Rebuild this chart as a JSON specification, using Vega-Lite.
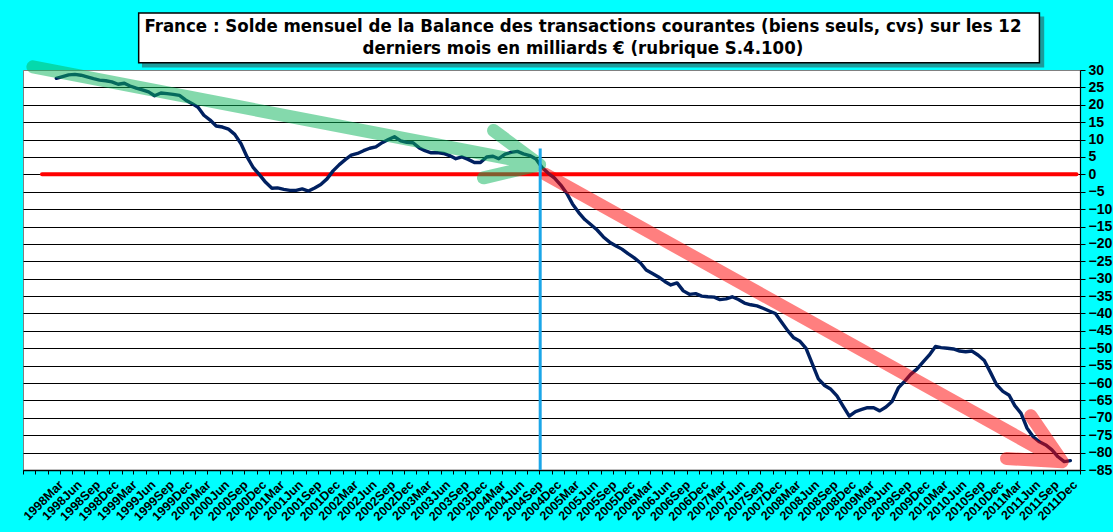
{
  "$schema": "https://vega.github.io/schema/vega-lite/v6.json",
  "width": 1057,
  "height": 400,
  "autosize": {"type": "none"},
  "padding": {"left": 23, "top": 70, "right": 33, "bottom": 62},
  "background": "#00FFFF",
  "config": {
    "view": {"fill": "white", "stroke": "#808080", "strokeWidth": 1},
    "font": "Liberation Sans"
  },
  "datasets": {
    "solde": [
      {"mois": "1998-03-15", "solde": 27.6}, {"mois": "1998-04-15", "solde": 28.1}, {"mois": "1998-05-15", "solde": 28.6},
      {"mois": "1998-06-15", "solde": 28.75}, {"mois": "1998-07-15", "solde": 28.5}, {"mois": "1998-08-15", "solde": 28.0},
      {"mois": "1998-09-15", "solde": 27.5}, {"mois": "1998-10-15", "solde": 27.1}, {"mois": "1998-11-15", "solde": 26.9},
      {"mois": "1998-12-15", "solde": 26.6}, {"mois": "1999-01-15", "solde": 25.9}, {"mois": "1999-02-15", "solde": 26.2},
      {"mois": "1999-03-15", "solde": 25.4}, {"mois": "1999-04-15", "solde": 24.8}, {"mois": "1999-05-15", "solde": 24.3},
      {"mois": "1999-06-15", "solde": 23.7}, {"mois": "1999-07-15", "solde": 22.6}, {"mois": "1999-08-15", "solde": 23.4},
      {"mois": "1999-09-15", "solde": 23.2}, {"mois": "1999-10-15", "solde": 23.0}, {"mois": "1999-11-15", "solde": 22.7},
      {"mois": "1999-12-15", "solde": 21.4}, {"mois": "2000-01-15", "solde": 20.4}, {"mois": "2000-02-15", "solde": 19.3},
      {"mois": "2000-03-15", "solde": 17.0}, {"mois": "2000-04-15", "solde": 15.6}, {"mois": "2000-05-15", "solde": 13.9},
      {"mois": "2000-06-15", "solde": 13.6}, {"mois": "2000-07-15", "solde": 13.0}, {"mois": "2000-08-15", "solde": 11.5},
      {"mois": "2000-09-15", "solde": 8.8}, {"mois": "2000-10-15", "solde": 5.0}, {"mois": "2000-11-15", "solde": 1.9},
      {"mois": "2000-12-15", "solde": -0.1}, {"mois": "2001-01-15", "solde": -2.3}, {"mois": "2001-02-15", "solde": -4.0},
      {"mois": "2001-03-15", "solde": -3.9}, {"mois": "2001-04-15", "solde": -4.3}, {"mois": "2001-05-15", "solde": -4.6},
      {"mois": "2001-06-15", "solde": -4.6}, {"mois": "2001-07-15", "solde": -4.2}, {"mois": "2001-08-15", "solde": -4.8},
      {"mois": "2001-09-15", "solde": -3.9}, {"mois": "2001-10-15", "solde": -2.9}, {"mois": "2001-11-15", "solde": -1.3},
      {"mois": "2001-12-15", "solde": 1.0}, {"mois": "2002-01-15", "solde": 2.8}, {"mois": "2002-02-15", "solde": 4.3},
      {"mois": "2002-03-15", "solde": 5.5}, {"mois": "2002-04-15", "solde": 6.0}, {"mois": "2002-05-15", "solde": 6.8},
      {"mois": "2002-06-15", "solde": 7.5}, {"mois": "2002-07-15", "solde": 7.9}, {"mois": "2002-08-15", "solde": 9.1},
      {"mois": "2002-09-15", "solde": 10.0}, {"mois": "2002-10-15", "solde": 10.8}, {"mois": "2002-11-15", "solde": 9.6},
      {"mois": "2002-12-15", "solde": 9.2}, {"mois": "2003-01-15", "solde": 9.1}, {"mois": "2003-02-15", "solde": 7.6},
      {"mois": "2003-03-15", "solde": 6.8}, {"mois": "2003-04-15", "solde": 6.2}, {"mois": "2003-05-15", "solde": 6.25},
      {"mois": "2003-06-15", "solde": 6.0}, {"mois": "2003-07-15", "solde": 5.4}, {"mois": "2003-08-15", "solde": 4.5},
      {"mois": "2003-09-15", "solde": 5.0}, {"mois": "2003-10-15", "solde": 4.3}, {"mois": "2003-11-15", "solde": 3.4},
      {"mois": "2003-12-15", "solde": 3.4}, {"mois": "2004-01-15", "solde": 5.0}, {"mois": "2004-02-15", "solde": 5.2},
      {"mois": "2004-03-15", "solde": 4.5}, {"mois": "2004-04-15", "solde": 5.8}, {"mois": "2004-05-15", "solde": 6.3},
      {"mois": "2004-06-15", "solde": 6.6}, {"mois": "2004-07-15", "solde": 5.9}, {"mois": "2004-08-15", "solde": 5.4},
      {"mois": "2004-09-15", "solde": 4.4}, {"mois": "2004-10-15", "solde": 2.0}, {"mois": "2004-11-15", "solde": 0.3},
      {"mois": "2004-12-15", "solde": -1.0}, {"mois": "2005-01-15", "solde": -3.0}, {"mois": "2005-02-15", "solde": -5.5},
      {"mois": "2005-03-15", "solde": -8.5}, {"mois": "2005-04-15", "solde": -11.0}, {"mois": "2005-05-15", "solde": -13.0},
      {"mois": "2005-06-15", "solde": -14.5}, {"mois": "2005-07-15", "solde": -16.0}, {"mois": "2005-08-15", "solde": -18.0},
      {"mois": "2005-09-15", "solde": -19.5}, {"mois": "2005-10-15", "solde": -20.5}, {"mois": "2005-11-15", "solde": -21.5},
      {"mois": "2005-12-15", "solde": -22.8}, {"mois": "2006-01-15", "solde": -24.0}, {"mois": "2006-02-15", "solde": -25.5},
      {"mois": "2006-03-15", "solde": -27.5}, {"mois": "2006-04-15", "solde": -28.5}, {"mois": "2006-05-15", "solde": -29.5},
      {"mois": "2006-06-15", "solde": -30.8}, {"mois": "2006-07-15", "solde": -31.8}, {"mois": "2006-08-15", "solde": -31.2},
      {"mois": "2006-09-15", "solde": -33.5}, {"mois": "2006-10-15", "solde": -34.5}, {"mois": "2006-11-15", "solde": -34.3},
      {"mois": "2006-12-15", "solde": -35.0}, {"mois": "2007-01-15", "solde": -35.2}, {"mois": "2007-02-15", "solde": -35.3},
      {"mois": "2007-03-15", "solde": -36.0}, {"mois": "2007-04-15", "solde": -35.8}, {"mois": "2007-05-15", "solde": -35.2},
      {"mois": "2007-06-15", "solde": -36.0}, {"mois": "2007-07-15", "solde": -37.0}, {"mois": "2007-08-15", "solde": -37.5},
      {"mois": "2007-09-15", "solde": -37.8}, {"mois": "2007-10-15", "solde": -38.5}, {"mois": "2007-11-15", "solde": -39.3},
      {"mois": "2007-12-15", "solde": -40.0}, {"mois": "2008-01-15", "solde": -42.5}, {"mois": "2008-02-15", "solde": -45.0},
      {"mois": "2008-03-15", "solde": -47.0}, {"mois": "2008-04-15", "solde": -48.0}, {"mois": "2008-05-15", "solde": -50.0},
      {"mois": "2008-06-15", "solde": -54.5}, {"mois": "2008-07-15", "solde": -58.8}, {"mois": "2008-08-15", "solde": -60.7},
      {"mois": "2008-09-15", "solde": -61.8}, {"mois": "2008-10-15", "solde": -63.7}, {"mois": "2008-11-15", "solde": -66.7},
      {"mois": "2008-12-15", "solde": -69.5}, {"mois": "2009-01-15", "solde": -68.2}, {"mois": "2009-02-15", "solde": -67.6},
      {"mois": "2009-03-15", "solde": -67.1}, {"mois": "2009-04-15", "solde": -67.1}, {"mois": "2009-05-15", "solde": -68.0},
      {"mois": "2009-06-15", "solde": -66.9}, {"mois": "2009-07-15", "solde": -65.3}, {"mois": "2009-08-15", "solde": -61.4},
      {"mois": "2009-09-15", "solde": -59.5}, {"mois": "2009-10-15", "solde": -57.5}, {"mois": "2009-11-15", "solde": -56.0},
      {"mois": "2009-12-15", "solde": -54.0}, {"mois": "2010-01-15", "solde": -52.0}, {"mois": "2010-02-15", "solde": -49.5},
      {"mois": "2010-03-15", "solde": -49.8}, {"mois": "2010-04-15", "solde": -50.0}, {"mois": "2010-05-15", "solde": -50.2},
      {"mois": "2010-06-15", "solde": -50.8}, {"mois": "2010-07-15", "solde": -51.0}, {"mois": "2010-08-15", "solde": -50.8},
      {"mois": "2010-09-15", "solde": -52.0}, {"mois": "2010-10-15", "solde": -53.5}, {"mois": "2010-11-15", "solde": -57.0},
      {"mois": "2010-12-15", "solde": -60.5}, {"mois": "2011-01-15", "solde": -62.4}, {"mois": "2011-02-15", "solde": -63.5},
      {"mois": "2011-03-15", "solde": -66.5}, {"mois": "2011-04-15", "solde": -68.7}, {"mois": "2011-05-15", "solde": -73.0},
      {"mois": "2011-06-15", "solde": -75.5}, {"mois": "2011-07-15", "solde": -76.9}, {"mois": "2011-08-15", "solde": -77.8},
      {"mois": "2011-09-15", "solde": -79.2}, {"mois": "2011-10-15", "solde": -81.2}, {"mois": "2011-11-15", "solde": -82.6},
      {"mois": "2011-12-15", "solde": -82.3}
    ],
    "fleches": [
      {"fleche": "verte", "rang": 1, "mois": "1997-11-19", "v": 30.9},
      {"fleche": "verte", "rang": 2, "mois": "2004-10-03", "v": 2.8},
      {"fleche": "verte", "rang": 3, "mois": "2004-02-18", "v": 12.6},
      {"fleche": "verte", "rang": 4, "mois": "2004-10-03", "v": 2.8},
      {"fleche": "verte", "rang": 5, "mois": "2003-12-30", "v": -1.0},
      {"fleche": "rouge", "rang": 1, "mois": "2004-11-02", "v": 0.0},
      {"fleche": "rouge", "rang": 2, "mois": "2011-11-05", "v": -82.6},
      {"fleche": "rouge", "rang": 3, "mois": "2011-06-02", "v": -69.4},
      {"fleche": "rouge", "rang": 4, "mois": "2011-11-05", "v": -82.6},
      {"fleche": "rouge", "rang": 5, "mois": "2011-02-02", "v": -81.7}
    ]
  },
  "layer": [
    {
      "data": {"values": [{"debut": "1998-01-03", "fin": "2012-01-15", "v": 0}]},
      "mark": {"type": "rule", "color": "#FF0000", "strokeWidth": 4, "strokeCap": "round"},
      "encoding": {
        "x": {"field": "debut", "type": "temporal", "scale": {"type": "utc", "domain": [{"year": 1997, "month": 10, "date": 1, "utc": true}, {"year": 2012, "month": 2, "date": 1, "utc": true}]}},
        "x2": {"field": "fin"},
        "y": {"field": "v", "type": "quantitative", "scale": {"domain": [-85, 30], "nice": false, "zero": false}}
      }
    },
    {
      "data": {"name": "solde"},
      "mark": {"type": "line", "color": "#002060", "strokeWidth": 3.4, "strokeJoin": "round", "strokeCap": "round"},
      "encoding": {
        "x": {
          "field": "mois",
          "type": "temporal",
          "scale": {"type": "utc", "domain": [{"year": 1997, "month": 10, "date": 1, "utc": true}, {"year": 2012, "month": 2, "date": 1, "utc": true}]},
          "axis": {
            "title": null,
            "grid": false,
            "tickCount": {"interval": "month", "step": 1},
            "domainColor": "black",
            "domainWidth": 1.5,
            "tickColor": "black",
            "tickSize": 4,
            "tickOpacity": {"condition": {"test": "utcmonth(datum.value) % 2 == 1", "value": 1}, "value": 0},
            "labelExpr": "(utcmonth(datum.value) % 3 == 2 && datum.value >= utc(1998, 2, 1)) ? utcFormat(datum.value, '%Y%b') : ''",
            "labelAngle": -45,
            "labelOffset": 3,
            "labelPadding": 4,
            "labelOverlap": false,
            "labelBound": false,
            "labelFlush": false,
            "labelFont": "Liberation Sans",
            "labelFontSize": 12.5,
            "labelFontWeight": "bold",
            "labelColor": "black"
          }
        },
        "y": {
          "field": "solde",
          "type": "quantitative",
          "scale": {"domain": [-85, 30], "nice": false, "zero": false},
          "axis": {
            "title": null,
            "orient": "right",
            "values": [-85, -80, -75, -70, -65, -60, -55, -50, -45, -40, -35, -30, -25, -20, -15, -10, -5, 0, 5, 10, 15, 20, 25, 30],
            "tickCount": 40,
            "grid": true,
            "gridColor": {"condition": {"test": "datum.value == 30", "value": "#808080"}, "value": "black"},
            "gridOpacity": 1,
            "gridWidth": 1.2,
            "domainColor": "black",
            "domainWidth": 1.2,
            "tickColor": "black",
            "tickSize": 5,
            "labelOverlap": false,
            "labelBound": false,
            "labelFlush": false,
            "labelPadding": 3,
            "labelFont": "Liberation Sans",
            "labelFontSize": 14,
            "labelFontWeight": "bold",
            "labelColor": "black"
          }
        }
      }
    },
    {
      "data": {"name": "fleches"},
      "mark": {"type": "line", "strokeWidth": 13, "strokeCap": "round", "strokeJoin": "round", "opacity": 0.5},
      "encoding": {
        "x": {"field": "mois", "type": "temporal", "scale": {"type": "utc", "domain": [{"year": 1997, "month": 10, "date": 1, "utc": true}, {"year": 2012, "month": 2, "date": 1, "utc": true}]}},
        "y": {"field": "v", "type": "quantitative", "scale": {"domain": [-85, 30], "nice": false, "zero": false}},
        "color": {"field": "fleche", "type": "nominal", "scale": {"domain": ["verte", "rouge"], "range": ["#09B359", "#FF0000"]}, "legend": null},
        "order": {"field": "rang", "type": "quantitative"}
      }
    },
    {
      "data": {"values": [{"mois": "2004-10-06", "haut": 7.4, "bas": -85}]},
      "mark": {"type": "rule", "color": "#1BA6E8", "strokeWidth": 3},
      "encoding": {
        "x": {"field": "mois", "type": "temporal", "scale": {"type": "utc", "domain": [{"year": 1997, "month": 10, "date": 1, "utc": true}, {"year": 2012, "month": 2, "date": 1, "utc": true}]}},
        "y": {"field": "haut", "type": "quantitative", "scale": {"domain": [-85, 30], "nice": false, "zero": false}},
        "y2": {"field": "bas"}
      }
    },
    {
      "data": {"values": [
        {"cadre": "ombre", "debut": "1999-05-17", "fin": "2011-08-04", "haut": 45.2, "bas": 30.9},
        {"cadre": "titre", "debut": "1999-04-27", "fin": "2011-07-15", "haut": 46.4, "bas": 32.1}
      ]},
      "mark": {"type": "rect", "strokeWidth": 1.5},
      "encoding": {
        "x": {"field": "debut", "type": "temporal", "scale": {"type": "utc", "domain": [{"year": 1997, "month": 10, "date": 1, "utc": true}, {"year": 2012, "month": 2, "date": 1, "utc": true}]}},
        "x2": {"field": "fin"},
        "y": {"field": "haut", "type": "quantitative", "scale": {"domain": [-85, 30], "nice": false, "zero": false}},
        "y2": {"field": "bas"},
        "fill": {"field": "cadre", "type": "nominal", "scale": {"domain": ["ombre", "titre"], "range": ["#1C9C9C", "white"]}, "legend": null},
        "stroke": {"field": "cadre", "type": "nominal", "scale": {"domain": ["ombre", "titre"], "range": ["#1C9C9C", "black"]}, "legend": null},
        "order": {"field": "cadre", "type": "nominal"}
      }
    },
    {
      "data": {"values": [
        {"ligne": 1, "mois": "2005-05-06", "v": 40.8, "texte": "France : Solde mensuel de la Balance des transactions courantes (biens seuls, cvs) sur les 12"},
        {"ligne": 2, "mois": "2005-05-06", "v": 34.5, "texte": "derniers mois en milliards € (rubrique S.4.100)"}
      ]},
      "mark": {"type": "text", "font": "DejaVu Sans Condensed", "fontSize": 18.5, "fontWeight": "bold", "color": "black", "align": "center", "baseline": "alphabetic"},
      "encoding": {
        "x": {"field": "mois", "type": "temporal", "scale": {"type": "utc", "domain": [{"year": 1997, "month": 10, "date": 1, "utc": true}, {"year": 2012, "month": 2, "date": 1, "utc": true}]}},
        "y": {"field": "v", "type": "quantitative", "scale": {"domain": [-85, 30], "nice": false, "zero": false}},
        "text": {"field": "texte", "type": "nominal"}
      }
    }
  ]
}
